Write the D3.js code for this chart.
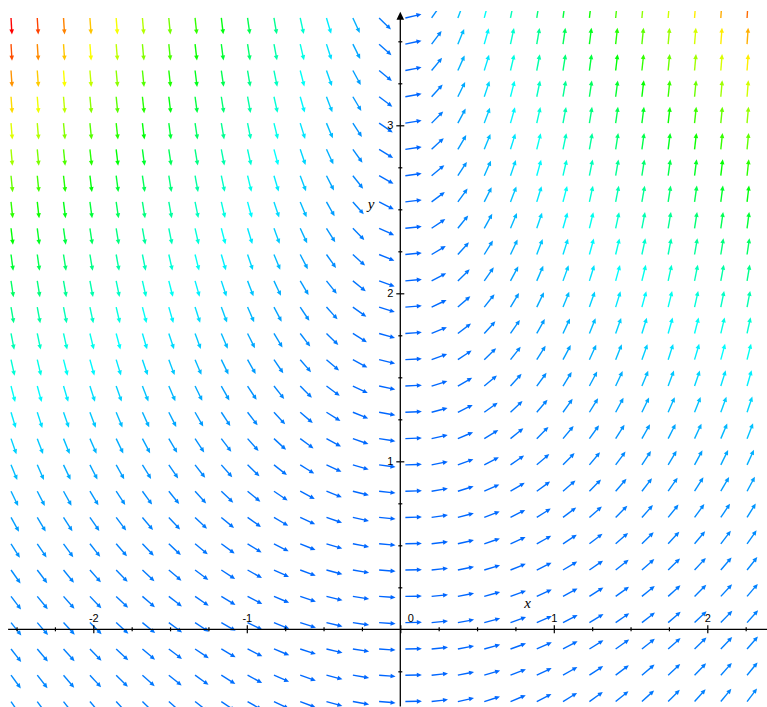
<!DOCTYPE html>
<html>
<head>
<meta charset="utf-8">
<script src="https://cdn.jsdelivr.net/npm/d3@7"></script>
<style>
	html, body { margin: 0; padding: 0; background: #fff; }
	svg { display: block; }
	.tick text { font-family: "Liberation Sans", Arial, sans-serif; font-size: 11px; fill: #000; }
	.axis-title { font-family: "Liberation Serif", "Times New Roman", serif; font-style: italic; font-size: 15px; fill: #000; }
</style>
</head>
<body>
<div id="field"></div>
<script>
// grid columns (x) and rows (y) where each arrow starts
const xCols = [-2.536, -2.365, -2.194, -2.022, -1.851, -1.680, -1.508, -1.337, -1.166, -0.995,
	-0.823, -0.652, -0.481, -0.309, -0.138, 0.033, 0.204, 0.375, 0.547, 0.718,
	0.889, 1.060, 1.232, 1.403, 1.574, 1.745, 1.917, 2.088, 2.259];
const yRows = [3.639, 3.483, 3.326, 3.170, 3.013, 2.857, 2.700, 2.544, 2.387, 2.231,
	2.074, 1.918, 1.761, 1.605, 1.448, 1.292, 1.135, 0.979, 0.822, 0.666,
	0.509, 0.353, 0.196, 0.040, -0.117, -0.273, -0.430];
// slope per unit x, read row by row (dy/dx = x * gain)
const rowGain = [6.41, 5.90, 5.44, 4.97, 4.53, 4.13, 3.73, 3.35, 3.02, 2.69,
	2.38, 2.11, 1.84, 1.62, 1.40, 1.20, 1.03, 0.88, 0.75, 0.65,
	0.57, 0.51, 0.47, 0.45, 0.46, 0.49, 0.53];

const xMajorTicks = [-2, -1, 0, 1, 2];
const xMinorTicks = [-2.5, -2.25, -1.75, -1.5, -1.25, -0.75, -0.5, -0.25,
	0.25, 0.5, 0.75, 1.25, 1.5, 1.75, 2.25];
const yMajorTicks = [1, 2, 3];
const yMinorTicks = [-0.25, 0.25, 0.5, 0.75, 1.25, 1.5, 1.75, 2.25, 2.5, 2.75, 3.25, 3.5];

const size = { width: 767, height: 707 };

const scale = {
	x: d3.scaleLinear().domain([-2.6, 2.4]).range([1.2, 768.7]),
	y: d3.scaleLinear().domain([-0.46, 3.7]).range([706.6, 7.7]),
};

const svg = d3.select('#field').append('svg')
	.attr('width', size.width).attr('height', size.height);

svg.append('defs').append('clipPath').attr('id', 'plot-clip')
	.append('rect')
	.attr('x', 0).attr('y', scale.y(3.68))
	.attr('width', size.width).attr('height', size.height);

// arrows
let arrows = [];
yRows.forEach((y, i) => {
	xCols.forEach((x) => {
		let slope = x * rowGain[i];
		arrows.push({ x, y, slope, mag: Math.hypot(1, slope) });
	});
});

const hue = d3.scaleLinear()
	.domain(d3.extent(arrows, (d) => d.mag))
	.range([216, 0]);

const len = 16.5, headLen = 5, headHalf = 2.3;

arrows.forEach((d) => {
	let x0 = scale.x(d.x), y0 = scale.y(d.y);
	let vx = scale.x(d.x + 1) - x0;
	let vy = scale.y(d.y + d.slope) - y0;
	let n = Math.hypot(vx, vy);
	d.ux = vx / n; d.uy = vy / n;
	d.x0 = x0; d.y0 = y0;
	d.color = d3.hsl(hue(d.mag), 1, 0.5).toString();
});

const field = svg.append('g').attr('clip-path', 'url(#plot-clip)');

field.selectAll('line.shaft').data(arrows).join('line')
	.classed('shaft', true)
	.attr('x1', (d) => d.x0)
	.attr('y1', (d) => d.y0)
	.attr('x2', (d) => d.x0 + d.ux * (len - headLen + 1))
	.attr('y2', (d) => d.y0 + d.uy * (len - headLen + 1))
	.attr('stroke', (d) => d.color)
	.attr('stroke-width', 1.4);

field.selectAll('path.head').data(arrows).join('path')
	.classed('head', true)
	.attr('d', (d) => {
		let tx = d.x0 + d.ux * len, ty = d.y0 + d.uy * len;
		let bx = d.x0 + d.ux * (len - headLen), by = d.y0 + d.uy * (len - headLen);
		let px = -d.uy * headHalf, py = d.ux * headHalf;
		return `M${tx},${ty}L${bx + px},${by + py}L${bx - px},${by - py}Z`;
	})
	.attr('fill', (d) => d.color);

// axes
const ox = scale.x(0), oy = scale.y(0);
const axes = svg.append('g').attr('class', 'axes');

axes.append('line')
	.attr('x1', scale.x(-2.555)).attr('x2', scale.x(2.42))
	.attr('y1', oy).attr('y2', oy)
	.attr('stroke', '#000').attr('stroke-width', 1.3);
axes.append('line')
	.attr('x1', ox).attr('x2', ox)
	.attr('y1', scale.y(-0.46)).attr('y2', scale.y(3.64))
	.attr('stroke', '#000').attr('stroke-width', 1.3);
axes.append('path')
	.attr('d', `M${ox},${scale.y(3.676)}L${ox - 3.8},${scale.y(3.676) + 8}L${ox + 3.8},${scale.y(3.676) + 8}Z`)
	.attr('fill', '#000');

const fmt = (v) => v < 0 ? '-' + Math.abs(v) : String(v);

const xMinor = axes.append('g').attr('transform', `translate(0, ${oy + 2})`)
	.call(d3.axisTop(scale.x).tickValues(xMinorTicks).tickSize(4).tickFormat(''));
const xMajor = axes.append('g').attr('transform', `translate(0, ${oy + 4})`)
	.call(d3.axisTop(scale.x).tickValues(xMajorTicks).tickSize(8).tickPadding(3).tickFormat(fmt));
const yMinor = axes.append('g').attr('transform', `translate(${ox + 2}, 0)`)
	.call(d3.axisLeft(scale.y).tickValues(yMinorTicks).tickSize(4).tickFormat(''));
const yMajor = axes.append('g').attr('transform', `translate(${ox + 4}, 0)`)
	.call(d3.axisLeft(scale.y).tickValues(yMajorTicks).tickSize(8).tickPadding(3).tickFormat(fmt));

[xMinor, xMajor, yMinor, yMajor].forEach((g) => {
	g.select('.domain').remove();
	g.selectAll('.tick line').attr('stroke', '#000').attr('stroke-width', 1.2);
});
xMajor.selectAll('.tick text').filter((v) => v === 0).attr('dx', 10);

axes.append('text').attr('class', 'axis-title')
	.attr('x', scale.x(0.83)).attr('y', scale.y(0.127))
	.attr('text-anchor', 'middle').text('x');
axes.append('text').attr('class', 'axis-title')
	.attr('x', scale.x(-0.19)).attr('y', scale.y(2.5))
	.attr('text-anchor', 'middle').text('y');
</script>
</body>
</html>
